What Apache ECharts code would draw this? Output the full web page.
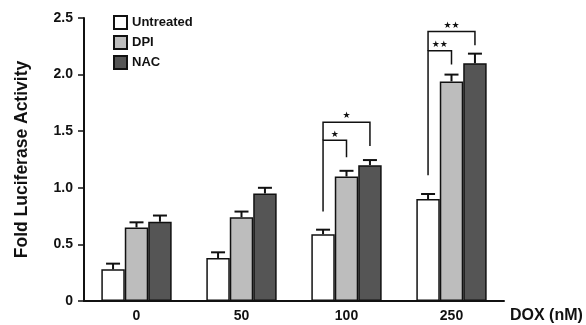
<!DOCTYPE html>
<html>
<head>
<meta charset="utf-8">
<script src="https://cdn.jsdelivr.net/npm/echarts@6/dist/echarts.min.js"></script>
<style>
  html, body { margin: 0; padding: 0; background: #fff; }
  #chart { width: 586px; height: 325px; }
</style>
</head>
<body>
<div id="chart"></div>
<script>
const categories = ['0', '50', '100', '250']
const seriesNames = ['Untreated', 'DPI', 'NAC']
const untreated = [0.28, 0.38, 0.59, 0.90]
const dpi = [0.65, 0.74, 1.10, 1.94]
const nac = [0.70, 0.95, 1.20, 2.10]
const untreatedErr = [0.05, 0.05, 0.04, 0.045]
const dpiErr = [0.045, 0.05, 0.05, 0.06]
const nacErr = [0.055, 0.05, 0.045, 0.085]
const yTicks = [0, 0.5, 1.0, 1.5, 2.0, 2.5]
// [category, from series, to series, left foot, top, right foot, label]
const brackets = [
  [2, 0, 1, 0.79, 1.42, 1.27, '*'],
  [2, 0, 2, 1.42, 1.58, 1.37, '*'],
  [3, 0, 1, 1.11, 2.21, 2.09, '**'],
  [3, 0, 2, 2.21, 2.38, 2.26, '**']
]

const FONT = '"Liberation Sans", Arial, sans-serif'
const GAP = 0.33
const colors = ['#ffffff', '#bdbdbd', '#555555']
const means = [untreated, dpi, nac]
const errs = [untreatedErr, dpiErr, nacErr]

const chart = echarts.init(document.getElementById('chart'))

// x offset of a bar's centre inside its category band
const barOffset = (api, s) => {
  const band = api.size([1, 0])[0]
  const w = band * (1 - GAP) / 3
  return (s - 1) * w
}

const errData = []
means.forEach((arr, s) => {
  arr.forEach((v, i) => errData.push([i, v, errs[s][i], s]))
})

const option = {
  animation: false,
  backgroundColor: '#fff',
  textStyle: { fontFamily: FONT },
  grid: { left: 84, right: 82, top: 18, bottom: 24 },
  legend: {
    data: seriesNames,
    icon: 'rect',
    orient: 'vertical',
    left: 113,
    top: 15,
    padding: 0,
    itemWidth: 13,
    itemHeight: 13,
    itemGap: 5,
    textStyle: { fontFamily: FONT, fontWeight: 'bold', fontSize: 13, lineHeight: 13, color: '#111' }
  },
  xAxis: {
    type: 'category',
    data: categories,
    name: 'DOX (nM)',
    nameLocation: 'end',
    nameGap: 6,
    nameTextStyle: {
      fontFamily: FONT, fontWeight: 'bold', fontSize: 16, color: '#111',
      verticalAlign: 'top', padding: [7, 0, 0, 0]
    },
    axisLine: { lineStyle: { color: '#111', width: 2 } },
    axisTick: { show: false },
    axisLabel: { fontFamily: FONT, fontWeight: 'bold', fontSize: 14, color: '#111', margin: 8 }
  },
  yAxis: {
    type: 'value',
    min: 0,
    max: 2.5,
    interval: 0.5,
    name: 'Fold Luciferase Activity',
    nameLocation: 'middle',
    nameGap: 53,
    nameTextStyle: { fontFamily: FONT, fontWeight: 'bold', fontSize: 17.5, color: '#111' },
    axisLine: { show: true, lineStyle: { color: '#111', width: 2 } },
    axisTick: { show: true, length: 6, lineStyle: { color: '#111', width: 1.5 } },
    splitLine: { show: false },
    axisLabel: {
      fontFamily: FONT, fontWeight: 'bold', fontSize: 14, color: '#111', margin: 11,
      formatter: v => (yTicks.includes(v) && v !== 0 ? v.toFixed(1) : String(v))
    }
  },
  series: [
    ...seriesNames.map((name, s) => ({
      name,
      type: 'bar',
      data: means[s],
      barGap: '0%',
      barCategoryGap: GAP * 100 + '%',
      itemStyle: { color: colors[s], borderColor: '#111', borderWidth: 1.5 }
    })),
    {
      type: 'custom',
      name: 'err',
      data: errData,
      z: 5,
      renderItem: (params, api) => {
        const s = api.value(3)
        const off = barOffset(api, s)
        const base = api.coord([api.value(0), api.value(1)])
        const top = api.coord([api.value(0), api.value(1) + api.value(2)])
        const x = base[0] + off
        const cap = 7
        const style = { stroke: '#111', lineWidth: 2 }
        return {
          type: 'group',
          children: [
            { type: 'line', shape: { x1: x, y1: base[1], x2: x, y2: top[1] }, style },
            { type: 'line', shape: { x1: x - cap, y1: top[1], x2: x + cap, y2: top[1] }, style }
          ]
        }
      }
    },
    {
      type: 'custom',
      name: 'sig',
      data: brackets,
      z: 5,
      renderItem: (params, api) => {
        const c = api.value(0)
        const x1 = api.coord([c, 0])[0] + barOffset(api, api.value(1))
        const x2 = api.coord([c, 0])[0] + barOffset(api, api.value(2))
        const yl = api.coord([c, api.value(3)])[1]
        const yt = api.coord([c, api.value(4)])[1]
        const yr = api.coord([c, api.value(5)])[1]
        const label = brackets[params.dataIndex][6]
        return {
          type: 'group',
          children: [
            {
              type: 'polyline',
              shape: { points: [[x1, yl], [x1, yt], [x2, yt], [x2, yr]] },
              style: { stroke: '#111', lineWidth: 1.5, fill: null }
            },
            {
              type: 'text',
              style: {
                x: (x1 + x2) / 2,
                y: yt - 6,
                text: label === '*' ? '★' : '★★',
                fill: '#111',
                font: '9px "DejaVu Sans"',
                align: 'center',
                verticalAlign: 'middle'
              }
            }
          ]
        }
      }
    }
  ]
}

chart.setOption(option)

window.addEventListener('resize', () => {
  chart.resize()
})
</script>
</body>
</html>
